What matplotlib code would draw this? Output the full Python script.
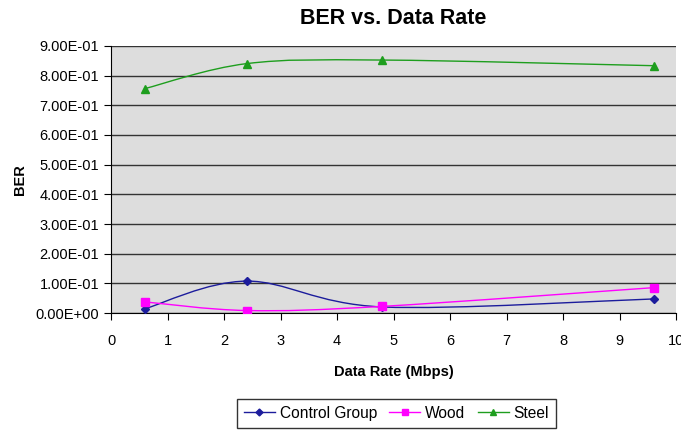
import numpy as np
import matplotlib.pyplot as plt
from matplotlib.path import Path
from matplotlib.patches import PathPatch
from matplotlib.lines import Line2D
from matplotlib.ticker import FuncFormatter

plt.rcParams['font.family'] = ['Liberation Sans', 'DejaVu Sans']

rates = [0.6, 2.4, 4.8, 9.6]
control = [0.015, 0.108, 0.021, 0.048]
wood = [0.038, 0.009, 0.023, 0.086]
steel = [0.756, 0.840, 0.852, 0.833]

series = [
    ('Control Group', control, '#1c1c9c', 'D', 4.5),
    ('Wood', wood, '#ff00ff', 's', 5.5),
    ('Steel', steel, '#1e9e1e', '^', 5.8),
]


def smooth_path(x, y):
    # Excel-style smoothed line: bezier segments with catmull-rom control points
    pts = np.column_stack([x, y]).astype(float)
    n = len(pts)
    verts = [pts[0]]
    codes = [Path.MOVETO]
    for i in range(n - 1):
        p0 = pts[max(i - 1, 0)]
        p1 = pts[i]
        p2 = pts[i + 1]
        p3 = pts[min(i + 2, n - 1)]
        verts += [p1 + (p2 - p0) / 6, p2 - (p3 - p1) / 6, p2]
        codes += [Path.CURVE4] * 3
    return Path(verts, codes)


fig = plt.figure(figsize=(6.81, 4.32), dpi=100)
ax = fig.add_axes([0.163, 0.275, 0.830, 0.619])
ax.set_facecolor('#dddddd')

handles = []
for name, vals, color, marker, ms in series:
    ax.add_patch(PathPatch(smooth_path(rates, vals), fill=False,
                           edgecolor=color, lw=1.0, zorder=3))
    ax.plot(rates, vals, linestyle='none', marker=marker, ms=ms,
            color=color, zorder=4)
    handles.append(Line2D([], [], color=color, marker=marker, ms=ms - 1,
                          lw=1.0, label=name))

ax.set_xlim(0, 10)
ax.set_ylim(0, 0.9)
ax.set_xticks(range(0, 11))
ax.set_yticks(np.arange(0, 0.91, 0.1))
ax.yaxis.set_major_formatter(FuncFormatter(lambda v, p: '{:.2E}'.format(v)))
ax.grid(axis='y', color='#333333', lw=1.0)
ax.set_axisbelow(True)
for s in ['top', 'right']:
    ax.spines[s].set_visible(False)
ax.tick_params(direction='out', length=5, labelsize=10.5, colors='black')
ax.tick_params(axis='x', pad=10)

ax.set_title('BER vs. Data Rate', fontsize=15.5, fontweight='bold', pad=16)
ax.set_xlabel('Data Rate (Mbps)', fontsize=10.5, fontweight='bold', labelpad=12)
ax.set_ylabel('BER', fontsize=10.5, fontweight='bold', labelpad=6)

fig.legend(handles=handles, loc='center', bbox_to_anchor=(0.582, 0.043),
           ncol=3, frameon=True, fancybox=False, edgecolor='black',
           fontsize=11.2, handlelength=2.0, columnspacing=0.8,
           handletextpad=0.3, borderpad=0.45)

fig.savefig('out.png', dpi=100)
